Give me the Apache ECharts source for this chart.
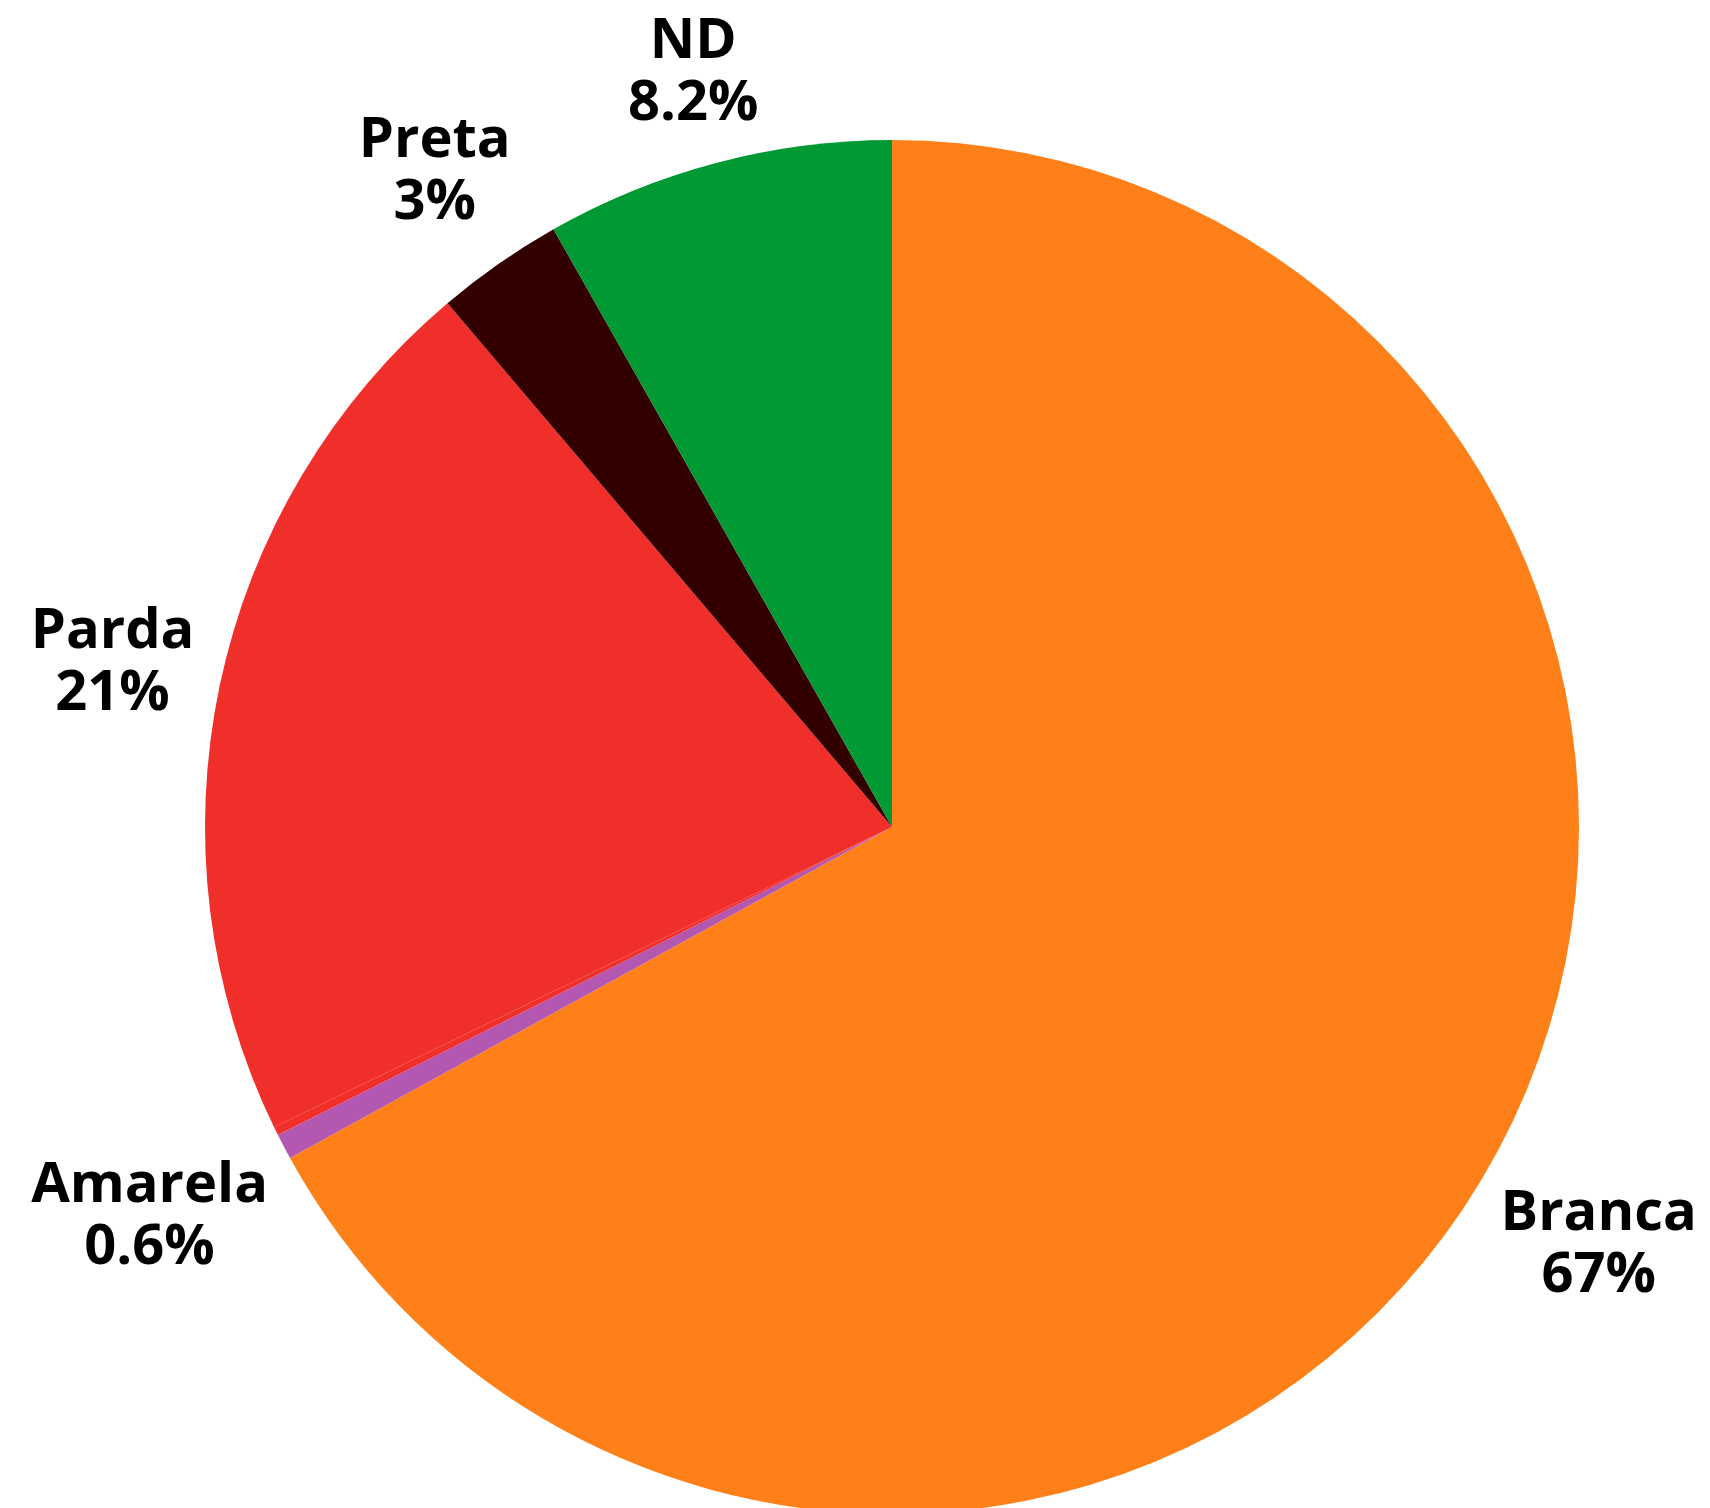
<!DOCTYPE html>
<html>
<head>
<meta charset="utf-8">
<script src="https://cdn.jsdelivr.net/npm/echarts@6/dist/echarts.min.js"></script>
<style>
html,body{margin:0;padding:0;background:#fff;}
#chart{width:1710px;height:1508px;}
</style>
</head>
<body>
<div id="chart"></div>
<script>
const categories = ['Branca', 'Amarela', 'Indígena', 'Parda', 'Preta', 'ND'];
const values = [67, 0.6, 0.2, 21, 3, 8.2];
const colors = ['#FF7F18', '#B357B0', '#F02E2A', '#F02E2A', '#330000', '#009933'];
const showLabel = [true, true, false, true, true, true];

const CX = 892, CY = 827, RADIUS = 687, GAP = 18;
const total = values.reduce((a, b) => a + b, 0);

function midAngle(i) {
  let before = 0;
  for (let k = 0; k < i; k++) before += values[k];
  return (before + values[i] / 2) / total * 2 * Math.PI;
}

const chart = echarts.init(document.getElementById('chart'));
chart.setOption({
  backgroundColor: '#fff',
  animation: false,
  series: [{
    type: 'pie',
    center: [CX, CY],
    radius: RADIUS,
    startAngle: 90,
    clockwise: true,
    avoidLabelOverlap: false,
    minShowLabelAngle: 0,
    itemStyle: { borderWidth: 0 },
    emphasis: { disabled: true },
    labelLine: { show: false },
    label: {
      show: true,
      position: 'outside',
      formatter: p => p.name + '\n' + p.value + '%',
      fontFamily: 'Open Sans',
      fontWeight: 'bold',
      fontSize: 56,
      lineHeight: 62,
      color: '#000',
      align: 'center'
    },
    labelLayout: function (params) {
      const i = params.dataIndex;
      const ang = midAngle(i);
      const dx = Math.sin(ang), dy = -Math.cos(ang);
      const a = Math.abs(dx), b = Math.abs(dy);
      const w = params.labelRect.width, h = params.labelRect.height;
      const R0 = RADIUS + GAP;
      // distance of label centre along the radial line so that the nearest box corner clears the circle
      const p = a * w + b * h;
      const q = (w * w + h * h) / 4 - R0 * R0;
      let d = (p + Math.sqrt(p * p - 4 * q)) / 2;
      if (d * a - w / 2 < 0) d = (R0 + h / 2) / b;
      else if (d * b - h / 2 < 0) d = (R0 + w / 2) / a;
      return {
        x: CX + d * dx,
        y: CY + d * dy,
        align: 'center',
        verticalAlign: 'middle'
      };
    },
    data: categories.map((c, i) => ({
      name: c,
      value: values[i],
      itemStyle: { color: colors[i] },
      label: { show: showLabel[i] }
    }))
  }]
});
</script>
</body>
</html>
